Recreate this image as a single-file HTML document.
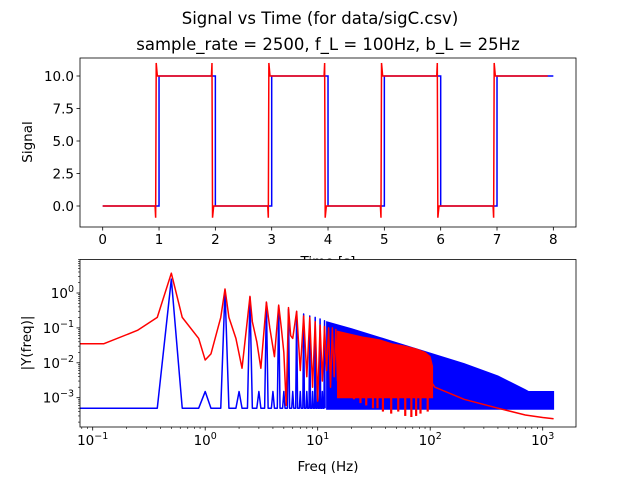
<!DOCTYPE html>
<html><head><meta charset="utf-8"><style>
html,body{margin:0;padding:0;background:#fff;}
svg{display:block;font-family:"DejaVu Sans","Liberation Sans",sans-serif;}
</style></head><body>
<svg id="chart" width="640" height="480" viewBox="0 0 640 480" xmlns="http://www.w3.org/2000/svg">
<rect width="640" height="480" fill="#fff"/>
<text x="320" y="24" font-size="16.5" text-anchor="middle">Signal vs Time (for data/sigC.csv)</text>
<text x="328" y="50" font-size="16.5" text-anchor="middle">sample_rate = 2500, f_L = 100Hz, b_L = 25Hz</text>
<g id="topPlot"></g>
<g id="botPlot"></g>
</svg>
<script>
// ---- time plot data ----
const blueEdgeTimes = [1,2,3,4,5,6,7];
const redEdgeTimes = [0.95,1.95,2.95,3.95,4.95,5.95,6.95];
const lowLevel = 0, highLevel = 10;
const overshootHigh = 11, overshootLow = -0.9;
const blueEnd = 8, redEnd = 7.9;
const timeTicks = [0,1,2,3,4,5,6,7,8];
const signalTicks = [0,2.5,5,7.5,10];
const signalTickLabels = ["0.0","2.5","5.0","7.5","10.0"];

// ---- spectrum data ----
const blueHarmFreqs = [0.5,1.5,2.5,3.5,4.5,5.5,6.5,7.5,8.5,9.5,10.5,11.5];
const blueHarmAmps  = [2.5,1.2,0.75,0.52,0.42,0.34,0.29,0.25,0.22,0.2,0.18,0.16];
const blueEvenFreqs = [1,2,3,4,5,6,7,8,9,10,11];
const blueEvenAmp = 0.0015;
const blueBase = 0.0005;
const blueEnvFreqs = [12,20,50,100,200,400,700,750,1250];
const blueEnvAmps  = [0.15,0.095,0.038,0.019,0.0095,0.0042,0.0017,0.0015,0.0015];
const redFreqs = [0.06,0.125,0.25,0.375,0.5,0.625,0.875,1.0,1.125,1.375,1.5,1.625,1.875,2.125,2.5,2.625,2.875,3.125,3.5,3.75,4.125,4.5,4.75,5.0,5.25,5.5,5.75,6.0,6.5,6.75,7.0,7.5,7.75,8.0,8.5,8.75,9.0,9.5,10.0,10.5,11.0,11.5,12,12.5,13,13.5,14,14.5,15];
const redVals  = [0.035,0.035,0.085,0.2,3.7,0.2,0.05,0.012,0.018,0.2,1.3,0.2,0.05,0.007,0.8,0.15,0.04,0.007,0.55,0.1,0.015,0.45,0.1,0.02,0.0006,0.38,0.06,0.05,0.3,0.04,0.006,0.22,0.03,0.004,0.2,0.02,0.002,0.15,0.0008,0.12,0.003,0.11,0.006,0.1,0.002,0.1,0.004,0.09,0.003];
const redEnvFreqs = [15,20,25,30,36,46,60,75,90,100,105];
const redEnvAmps  = [0.08,0.065,0.055,0.05,0.045,0.035,0.03,0.025,0.02,0.015,0.008];
const redDipFreqs = [16,18,21,24,27,31,34,38,45,52,60,68,75,82,95];
const redDipVals  = [0.002,0.0012,0.0009,0.0007,0.0006,0.0005,0.0005,0.0004,0.00035,0.0004,0.0003,0.00028,0.0003,0.00035,0.0004];
const redTailFreqs = [105,110,200,400,700,1000,1250];
const redTailVals  = [0.0025,0.002,0.0009,0.0005,0.00032,0.00027,0.00025];
const freqDecades = [-1,0,1,2,3];
const ampDecades = [0,-1,-2,-3];

const NS='http://www.w3.org/2000/svg';
function mk(parent,tag,attrs){const e=document.createElementNS(NS,tag);for(const k in attrs)e.setAttribute(k,attrs[k]);parent.appendChild(e);return e;}

// ===== TOP =====
const topG=document.getElementById('topPlot');
const TL=80,TR=576,TT=58,TB=227;
const tx=t=>102.7+t*56.33;
const ty=v=>206-v*13;
{
  let bp=[[0,lowLevel]];let lvl=lowLevel;
  blueEdgeTimes.forEach(t=>{bp.push([t,lvl]);lvl=lvl===lowLevel?highLevel:lowLevel;bp.push([t,lvl]);});
  bp.push([blueEnd,lvl]);
  const b=mk(topG,'polyline',{points:bp.map(p=>tx(p[0]).toFixed(2)+','+ty(p[1]).toFixed(2)).join(' '),fill:'none',stroke:'#0000ff','stroke-width':1.5});
  
  
  let rp=[[0,lowLevel]];lvl=lowLevel;
  redEdgeTimes.forEach(t=>{
    rp.push([t-0.02,lvl]);
    if(lvl===lowLevel){rp.push([t-0.01,overshootLow]);rp.push([t,overshootHigh]);rp.push([t+0.02,highLevel]);lvl=highLevel;}
    else{rp.push([t-0.01,overshootHigh]);rp.push([t,overshootLow]);rp.push([t+0.02,lowLevel]);lvl=lowLevel;}
  });
  rp.push([redEnd,lvl]);
  const r=mk(topG,'polyline',{points:rp.map(p=>tx(p[0]).toFixed(2)+','+ty(p[1]).toFixed(2)).join(' '),fill:'none',stroke:'#ff0000','stroke-width':1.5});
  
  
}
timeTicks.forEach(t=>{
  mk(topG,'line',{x1:tx(t),x2:tx(t),y1:TB,y2:TB+3.5,stroke:'#000','stroke-width':0.8});
  const l=mk(topG,'text',{x:tx(t),y:TB+17,'font-size':13.5,'text-anchor':'middle'});l.textContent=t;
  
  
});
signalTicks.forEach((v,i)=>{
  mk(topG,'line',{x1:TL,x2:TL-3.5,y1:ty(v),y2:ty(v),stroke:'#000','stroke-width':0.8});
  const l=mk(topG,'text',{x:TL-6,y:ty(v)+5,'font-size':13.5,'text-anchor':'end'});l.textContent=signalTickLabels[i];
  
  
});
{
  const f=mk(topG,'rect',{x:TL,y:TT,width:TR-TL,height:TB-TT,fill:'none',stroke:'#000','stroke-width':0.8});
  
  
  const yl=mk(topG,'text',{x:0,y:0,'font-size':13.5,'text-anchor':'middle',transform:'translate(32,142) rotate(-90)'});yl.textContent='Signal';
  
  
  const xl=mk(topG,'text',{x:328,y:266,'font-size':13.5,'text-anchor':'middle'});xl.textContent='Time [s]';
  
  
}

// ===== BOTTOM =====
const botG=document.getElementById('botPlot');
const BL=80,BR=576,BT=259.5,BB=427;
mk(botG,'rect',{x:BL,y:BT,width:BR-BL,height:BB-BT,fill:'#fff'});
const fx=f=>92.7+(Math.log10(f)+1)*112.5;
const ay=a=>293-Math.log10(a)*34.9;
const clip=mk(botG,'clipPath',{id:'bc'});mk(clip,'rect',{x:BL,y:BT,width:BR-BL,height:BB-BT});
const g=mk(botG,'g',{});
g.setAttribute('clip-path','url(#bc)');
{
  let pts=[[0.06,blueBase]];
  const all=[];
  blueHarmFreqs.forEach((f,i)=>all.push([f,blueHarmAmps[i]]));
  blueEvenFreqs.forEach(f=>all.push([f,blueEvenAmp]));
  all.sort((a,b)=>a[0]-b[0]);
  all.forEach(([f,a])=>{pts.push([f-0.125,blueBase]);pts.push([f,a]);pts.push([f+0.125,blueBase]);});
  const bl=mk(g,'polyline',{points:pts.map(p=>fx(p[0]).toFixed(2)+','+ay(p[1]).toFixed(2)).join(' '),fill:'none',stroke:'#0000ff','stroke-width':1.5,'stroke-linejoin':'round'});
  
  
  let poly=blueEnvFreqs.map((f,i)=>fx(f).toFixed(2)+','+ay(blueEnvAmps[i]).toFixed(2));
  poly.push(fx(blueEnvFreqs[blueEnvFreqs.length-1]).toFixed(2)+','+(ay(blueBase)+1).toFixed(2));
  poly.push(fx(blueEnvFreqs[0]).toFixed(2)+','+(ay(blueBase)+1).toFixed(2));
  const bb=mk(g,'polygon',{points:poly.join(' '),fill:'#0000ff',stroke:'#0000ff','stroke-width':1});
  
  
}
{
  const rl=mk(g,'polyline',{points:redFreqs.map((f,i)=>fx(f).toFixed(2)+','+ay(redVals[i]).toFixed(2)).join(' '),fill:'none',stroke:'#ff0000','stroke-width':1.5,'stroke-linejoin':'round'});
  
  
  let poly=redEnvFreqs.map((f,i)=>fx(f).toFixed(2)+','+ay(redEnvAmps[i]).toFixed(2));
  poly.push(fx(redEnvFreqs[redEnvFreqs.length-1]).toFixed(2)+','+ay(0.001).toFixed(2));
  poly.push(fx(redEnvFreqs[0]).toFixed(2)+','+ay(0.001).toFixed(2));
  const rb=mk(g,'polygon',{points:poly.join(' '),fill:'#ff0000',stroke:'#ff0000','stroke-width':1});
  
  
  redDipFreqs.forEach((f,i)=>{
    const d=mk(g,'line',{x1:fx(f),x2:fx(f),y1:ay(0.002),y2:ay(redDipVals[i]),stroke:'#ff0000','stroke-width':2.2});
    
    
  });
  const rt=mk(g,'polyline',{points:redTailFreqs.map((f,i)=>fx(f).toFixed(2)+','+ay(redTailVals[i]).toFixed(2)).join(' '),fill:'none',stroke:'#ff0000','stroke-width':1.5});
  
  
}
freqDecades.forEach(d=>{
  const f=Math.pow(10,d);
  mk(botG,'line',{x1:fx(f),x2:fx(f),y1:BB,y2:BB+3.5,stroke:'#000','stroke-width':0.8});
  const l=mk(botG,'text',{x:fx(f),y:BB+18,'font-size':13.5,'text-anchor':'middle'});
  l.innerHTML='10<tspan dy="-6" font-size="9.5">'+(d<0?'\u2212'+(-d):d)+'</tspan>';
  
  
  for(let k=2;k<10;k++){const x=fx(f*k);if(x<BR&&x>BL)mk(botG,'line',{x1:x,x2:x,y1:BB,y2:BB+2,stroke:'#000','stroke-width':0.6});}
});
for(let k=8;k<10;k++){const x=fx(0.01*k);if(x>BL)mk(botG,'line',{x1:x,x2:x,y1:BB,y2:BB+2,stroke:'#000','stroke-width':0.6});}
ampDecades.forEach(d=>{
  const a=Math.pow(10,d);
  mk(botG,'line',{x1:BL,x2:BL-3.5,y1:ay(a),y2:ay(a),stroke:'#000','stroke-width':0.8});
  const l=mk(botG,'text',{x:BL-6,y:ay(a)+5,'font-size':13.5,'text-anchor':'end'});
  l.innerHTML='10<tspan dy="-6" font-size="9.5">'+(d===0?'0':'\u2212'+(-d))+'</tspan>';
  
  
});
for(let d=-4;d<1;d++){for(let k=2;k<10;k++){const y=ay(Math.pow(10,d)*k);if(y>BT&&y<BB)mk(botG,'line',{x1:BL,x2:BL-2,y1:y,y2:y,stroke:'#000','stroke-width':0.6});}}
{
  const f=mk(botG,'rect',{x:BL,y:BT,width:BR-BL,height:BB-BT,fill:'none',stroke:'#000','stroke-width':0.8});
  
  
  const yl=mk(botG,'text',{x:0,y:0,'font-size':13.5,'text-anchor':'middle',transform:'translate(31,343) rotate(-90)'});yl.textContent='|Y(freq)|';
  
  
  const xl=mk(botG,'text',{x:328,y:471,'font-size':13.5,'text-anchor':'middle'});xl.textContent='Freq (Hz)';
  
  
}
</script>
</body></html>
